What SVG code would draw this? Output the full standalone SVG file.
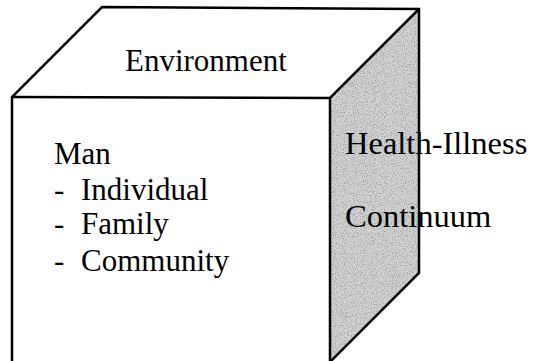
<svg xmlns="http://www.w3.org/2000/svg" width="536" height="361" viewBox="0 0 536 361">
<defs>
<filter id="stipple" x="0" y="0" width="100%" height="100%">
<feTurbulence type="fractalNoise" baseFrequency="0.9" numOctaves="2" seed="3" result="n"/>
<feColorMatrix in="n" type="matrix" values="0 0 0 0 0.3  0 0 0 0 0.3  0 0 0 0 0.3  0 0 0 -3 1.6" result="dots"/>
<feComposite in="dots" in2="SourceGraphic" operator="in" result="clip"/>
<feMerge><feMergeNode in="SourceGraphic"/><feMergeNode in="clip"/></feMerge>
</filter>
</defs>
<style>
.edge{fill:none;stroke:#000;stroke-width:2.5;stroke-linejoin:miter}
.t{font-family:"Liberation Serif","Times New Roman",serif;font-size:31px;fill:#000}
.r{font-size:32.5px}
</style>
<rect width="536" height="361" fill="#fff"/>
<g id="right-face">
<polygon points="330,98 419,9 419,273 330,362" fill="#d2d2d2" filter="url(#stipple)"/>
</g>
<g id="top-face">
<polygon points="12,97 102,7 419,9 330,98" fill="#fff"/>
</g>
<g id="front-face">
<polygon points="12,97 330,98 330,362 12,362" fill="#fff"/>
</g>
<g id="edges">
<polyline class="edge" points="12,362 12,97 102,7 419,9 419,273 330,362"/>
<polyline class="edge" points="12,97 330,98 419,9"/>
<line class="edge" x1="330" y1="98" x2="330" y2="362"/>
</g>
<g id="labels">
<text class="t" x="125" y="71">Environment</text>
<text class="t" x="54" y="164">Man</text>
<text class="t" x="54" y="200">-</text><text class="t" x="81" y="200">Individual</text>
<text class="t" x="54" y="234">-</text><text class="t" x="81" y="234">Family</text>
<text class="t" x="54" y="271">-</text><text class="t" x="81" y="271">Community</text>
<text class="t r" x="345" y="154">Health-Illness</text>
<text class="t r" x="345" y="227">Continuum</text>
</g>
</svg>
